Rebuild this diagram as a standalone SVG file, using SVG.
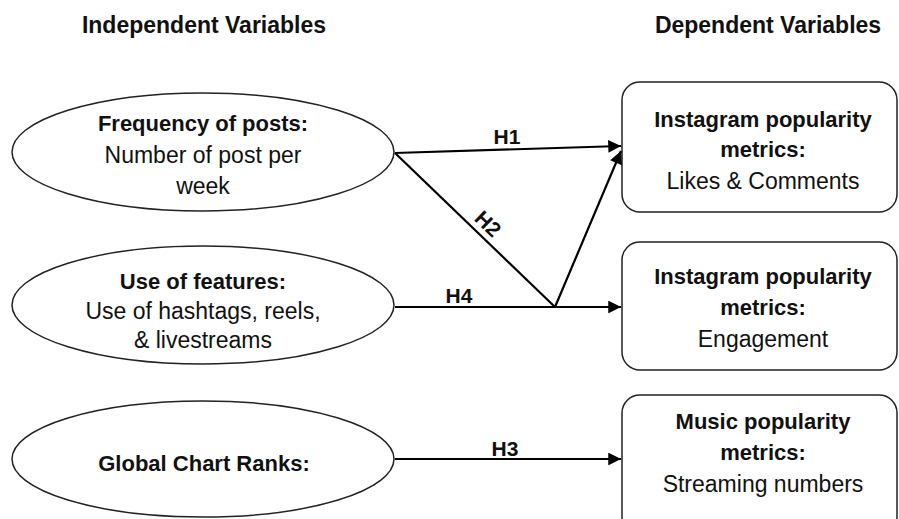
<svg xmlns="http://www.w3.org/2000/svg" width="899" height="519" viewBox="0 0 899 519">
<style>
text{font-family:"Liberation Sans",Arial,sans-serif;fill:#111;text-anchor:middle;font-size:23px}
.b{font-weight:bold;font-size:22px}
.hdr{font-weight:bold;font-size:23px}
.node{fill:#fff;stroke:#222;stroke-width:1.5}
.conn{stroke:#000;stroke-width:2.2;fill:none}
.lbl{font-weight:bold;font-size:21px}
</style>
<defs>
<marker id="ah" viewBox="0 0 10 10" refX="10" refY="5" markerWidth="8" markerHeight="5.8" markerUnits="strokeWidth" orient="auto">
<path d="M0,0 L10,5 L0,10 Z" fill="#000"/>
</marker>
</defs>
<rect width="899" height="519" fill="#fff"/>
<text class="hdr" x="204" y="33">Independent Variables</text>
<text class="hdr" x="768" y="33">Dependent Variables</text>

<g id="n-frequency">
<ellipse class="node" cx="203" cy="152" rx="191" ry="59"/>
<text class="b" x="203" y="131">Frequency of posts:</text>
<text x="203" y="163">Number of post per</text>
<text x="203" y="194">week</text>
</g>
<g id="n-features">
<ellipse class="node" cx="203" cy="305" rx="191" ry="59"/>
<text class="b" x="203" y="289">Use of features:</text>
<text x="203" y="319">Use of hashtags, reels,</text>
<text x="203" y="348">&amp; livestreams</text>
</g>
<g id="n-chart">
<ellipse class="node" cx="203" cy="459" rx="191" ry="58"/>
<text class="b" x="204" y="471">Global Chart Ranks:</text>
</g>

<g id="n-likes">
<rect class="node" x="622" y="82" width="275" height="130" rx="18"/>
<text class="b" x="763" y="127">Instagram popularity</text>
<text class="b" x="763" y="157">metrics:</text>
<text x="763" y="189">Likes &amp; Comments</text>
</g>
<g id="n-engagement">
<rect class="node" x="622" y="242" width="275" height="128" rx="18"/>
<text class="b" x="763" y="284">Instagram popularity</text>
<text class="b" x="763" y="315">metrics:</text>
<text x="763" y="347">Engagement</text>
</g>
<g id="n-streaming">
<rect class="node" x="622" y="395" width="275" height="140" rx="18"/>
<text class="b" x="763" y="429">Music popularity</text>
<text class="b" x="763" y="460">metrics:</text>
<text x="763" y="492">Streaming numbers</text>
</g>

<g id="connectors">
<line class="conn" x1="395" y1="153" x2="621" y2="146" marker-end="url(#ah)"/>
<line class="conn" x1="395" y1="153" x2="555" y2="307"/>
<line class="conn" x1="555" y1="307" x2="621" y2="151" marker-end="url(#ah)"/>
<line class="conn" x1="395" y1="307" x2="621" y2="307" marker-end="url(#ah)"/>
<line class="conn" x1="395" y1="459" x2="621" y2="459" marker-end="url(#ah)"/>
<text class="lbl" x="507" y="144">H1</text>
<text class="lbl" x="459" y="303">H4</text>
<text class="lbl" x="505" y="456">H3</text>
<text class="lbl" x="0" y="0" transform="translate(483,229) rotate(44)">H2</text>
</g>
</svg>
